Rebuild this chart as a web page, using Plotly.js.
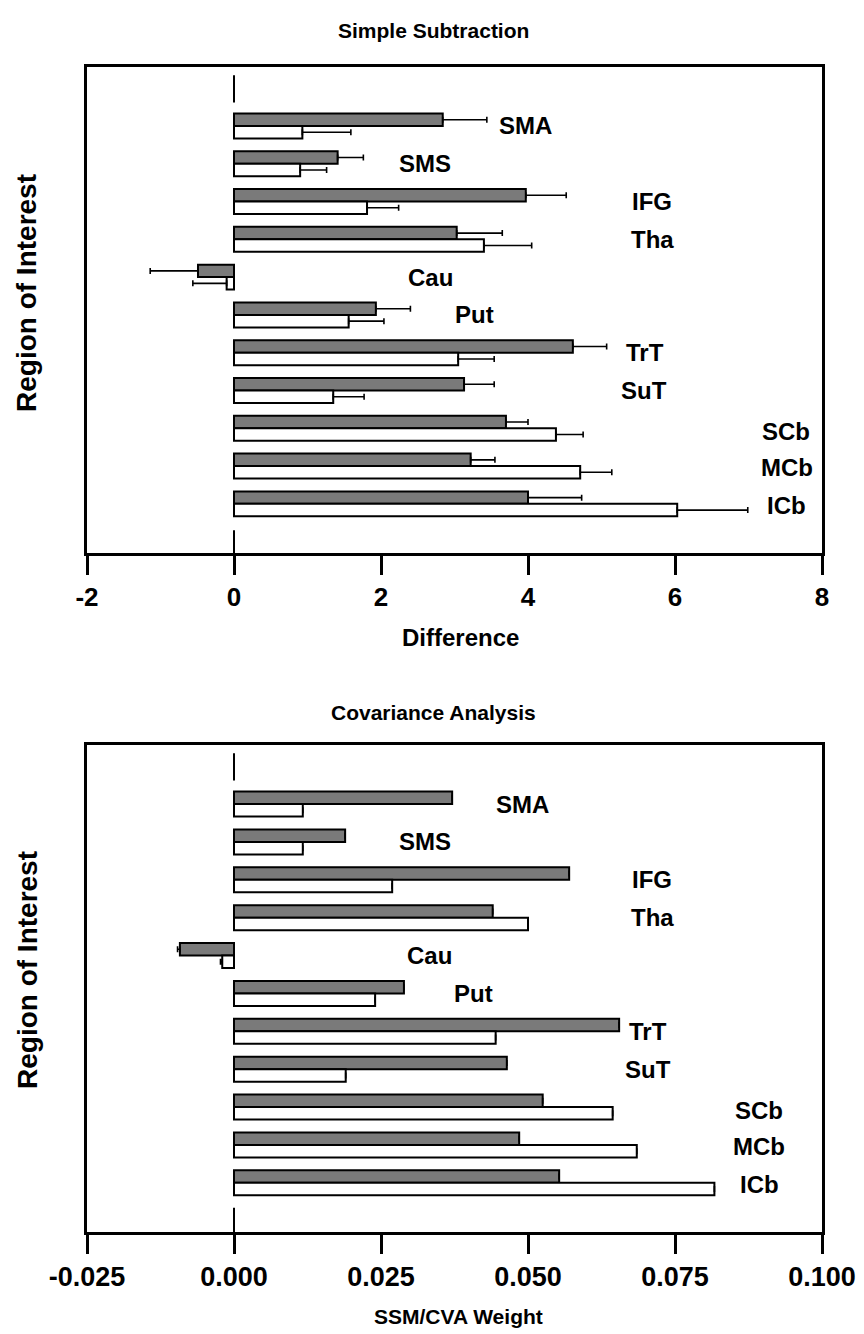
<!DOCTYPE html>
<html>
<head>
<meta charset="utf-8">
<script src="https://cdn.plot.ly/plotly-3.0.1.min.js"></script>
<style>
  html, body { margin: 0; padding: 0; background: #fff; }
  #chart { width: 864px; height: 1334px; }
</style>
</head>
<body>
<div id="chart"></div>
<script>
// ---- data ----
const categories = ['SMA', 'SMS', 'IFG', 'Tha', 'Cau', 'Put', 'TrT', 'SuT', 'SCb', 'MCb', 'ICb'];

// Simple Subtraction (Difference)
const diffGray      = [2.84, 1.41, 3.97, 3.03, -0.49, 1.93, 4.61, 3.13, 3.70, 3.22, 4.00];
const diffGrayErr   = [0.60, 0.35, 0.55, 0.62,  0.65, 0.47, 0.46, 0.41, 0.30, 0.33, 0.73];
const diffWhite     = [0.93, 0.90, 1.81, 3.40, -0.10, 1.56, 3.05, 1.35, 4.38, 4.71, 6.03];
const diffWhiteErr  = [0.66, 0.36, 0.43, 0.65,  0.46, 0.48, 0.49, 0.42, 0.37, 0.43, 0.96];

// Covariance Analysis (SSM/CVA Weight)
const cvaGray       = [0.0371, 0.0189, 0.0570, 0.0440, -0.0092, 0.0289, 0.0655, 0.0464, 0.0525, 0.0485, 0.0553];
const cvaGrayErr    = [0, 0, 0, 0, 0.0004, 0, 0, 0, 0, 0, 0];
const cvaWhite      = [0.0117, 0.0117, 0.0269, 0.0500, -0.0020, 0.0240, 0.0445, 0.0190, 0.0644, 0.0685, 0.0817];
const cvaWhiteErr   = [0, 0, 0, 0, 0.0003, 0, 0, 0, 0, 0, 0];

// tick labels
const tickVals1  = [-2, 0, 2, 4, 6, 8];
const tickText1  = ['-2', '0', '2', '4', '6', '8'];
const tickVals2  = [-0.025, 0, 0.025, 0.05, 0.075, 0.1];
const tickText2  = ['-0.025', '0.000', '0.025', '0.050', '0.075', '0.100'];

// ---- layout constants (positions of in-plot region labels) ----
const labelX1 = [3.96, 2.60, 5.69, 5.69, 2.67, 3.27, 5.59, 5.58, 7.51, 7.52, 7.52];
const labelX2 = [0.0491, 0.0325, 0.0711, 0.0711, 0.0333, 0.0408, 0.0704, 0.0704, 0.0893, 0.0893, 0.0893];
const labelDY = [0, 0, 0, 0, 0, 0, 0, 0, 0.08, 0.05, 0.05];

const FONT = 'Liberation Sans, Arial, Helvetica, sans-serif';
const GRAY = '#7a7a7a';

function plusErr(vals, errs) { return vals.map((v, i) => v >= 0 ? errs[i] : 0); }
function minusErr(vals, errs) { return vals.map((v, i) => v < 0 ? errs[i] : 0); }

function barTrace(vals, errs, fill, xa, ya) {
  return {
    type: 'bar', orientation: 'h',
    x: vals, y: categories,
    xaxis: xa, yaxis: ya,
    marker: { color: fill, line: { color: '#000', width: 2 } },
    error_x: {
      type: 'data', symmetric: false,
      array: plusErr(vals, errs), arrayminus: minusErr(vals, errs),
      color: '#000', thickness: 1.6, width: 3
    },
    showlegend: false, hoverinfo: 'x+y'
  };
}

const traces = [
  barTrace(diffGray, diffGrayErr, GRAY, 'x', 'y'),
  barTrace(diffWhite, diffWhiteErr, '#ffffff', 'x', 'y'),
  barTrace(cvaGray, cvaGrayErr, GRAY, 'x2', 'y2'),
  barTrace(cvaWhite, cvaWhiteErr, '#ffffff', 'x2', 'y2')
];

const H = 1334, W = 864;
const xDom = [87 / W, 822 / W];
const yDom1 = [1 - 553 / H, 1 - 67 / H];
const yDom2 = [1 - 1232 / H, 1 - 745 / H];
const yRange = [11.30, -1.56];

function xAxis(range, vals, text, anchor, fsize) {
  return {
    domain: xDom, range: range, anchor: anchor,
    showline: true, linewidth: 3, linecolor: '#000', mirror: true,
    showgrid: false, zeroline: false,
    ticks: 'outside', ticklen: 19, tickwidth: 3, tickcolor: '#000',
    tickmode: 'array', tickvals: vals, ticktext: text,
    tickfont: { family: FONT, size: fsize, color: '#000', weight: 'bold' },
    fixedrange: true
  };
}
function yAxis(dom, anchor) {
  return {
    domain: dom, range: yRange, anchor: anchor, type: 'category',
    categoryorder: 'array', categoryarray: categories,
    showline: true, linewidth: 3, linecolor: '#000', mirror: true,
    showgrid: false, zeroline: false, showticklabels: false, ticks: '',
    fixedrange: true
  };
}

const labelFont = { family: FONT, size: 24, color: '#000', weight: 'bold' };
const annotations = [];
categories.forEach((c, i) => {
  annotations.push({ xref: 'x', yref: 'y', x: labelX1[i], y: i + labelDY[i], text: c, showarrow: false,
    xanchor: 'center', yanchor: 'middle', font: labelFont });
  annotations.push({ xref: 'x2', yref: 'y2', x: labelX2[i], y: i + labelDY[i], text: c, showarrow: false,
    xanchor: 'center', yanchor: 'middle', font: labelFont });
});
// titles and axis titles
const titleFont = { family: FONT, size: 21, color: '#000', weight: 'bold' };
annotations.push({ xref: 'paper', yref: 'paper', x: 433 / W, y: 1 - 31 / H, text: 'Simple Subtraction',
  showarrow: false, xanchor: 'center', yanchor: 'middle', font: titleFont });
annotations.push({ xref: 'paper', yref: 'paper', x: 433 / W, y: 1 - 712 / H, text: 'Covariance Analysis',
  showarrow: false, xanchor: 'center', yanchor: 'middle', font: titleFont });
annotations.push({ xref: 'paper', yref: 'paper', x: 461 / W, y: 1 - 637 / H, text: 'Difference',
  showarrow: false, xanchor: 'center', yanchor: 'middle',
  font: { family: FONT, size: 24, color: '#000', weight: 'bold' } });
annotations.push({ xref: 'paper', yref: 'paper', x: 458 / W, y: 1 - 1316 / H, text: 'SSM/CVA Weight',
  showarrow: false, xanchor: 'center', yanchor: 'middle',
  font: { family: FONT, size: 21, color: '#000', weight: 'bold' } });
annotations.push({ xref: 'paper', yref: 'paper', x: 27 / W, y: 1 - 293 / H, text: 'Region of Interest',
  showarrow: false, xanchor: 'center', yanchor: 'middle', textangle: -90,
  font: { family: FONT, size: 28, color: '#000', weight: 'bold' } });
annotations.push({ xref: 'paper', yref: 'paper', x: 27 / W, y: 1 - 970 / H, text: 'Region of Interest',
  showarrow: false, xanchor: 'center', yanchor: 'middle', textangle: -90,
  font: { family: FONT, size: 28, color: '#000', weight: 'bold' } });

// zero reference line segments (visible above first and below last group)
const zl = { color: '#000', width: 2 };
const shapes = [
  { type: 'line', xref: 'x', yref: 'y', x0: 0, x1: 0, y0: -1.34, y1: -0.62, line: zl },
  { type: 'line', xref: 'x', yref: 'y', x0: 0, x1: 0, y0: 10.70, y1: 11.30, line: zl },
  { type: 'line', xref: 'x2', yref: 'y2', x0: 0, x1: 0, y0: -1.34, y1: -0.62, line: zl },
  { type: 'line', xref: 'x2', yref: 'y2', x0: 0, x1: 0, y0: 10.66, y1: 11.30, line: zl }
];

const layout = {
  width: W, height: H,
  margin: { l: 0, r: 0, t: 0, b: 0 },
  paper_bgcolor: '#fff', plot_bgcolor: '#fff',
  barmode: 'group', bargap: 0.34, bargroupgap: 0,
  showlegend: false,
  font: { family: FONT, color: '#000' },
  xaxis: xAxis([-2, 8], tickVals1, tickText1, 'y', 26),
  yaxis: yAxis(yDom1, 'x'),
  xaxis2: xAxis([-0.025, 0.1], tickVals2, tickText2, 'y2', 27),
  yaxis2: yAxis(yDom2, 'x2'),
  annotations: annotations,
  shapes: shapes
};

Plotly.newPlot('chart', traces, layout, { displayModeBar: false, staticPlot: true });
</script>
</body>
</html>
